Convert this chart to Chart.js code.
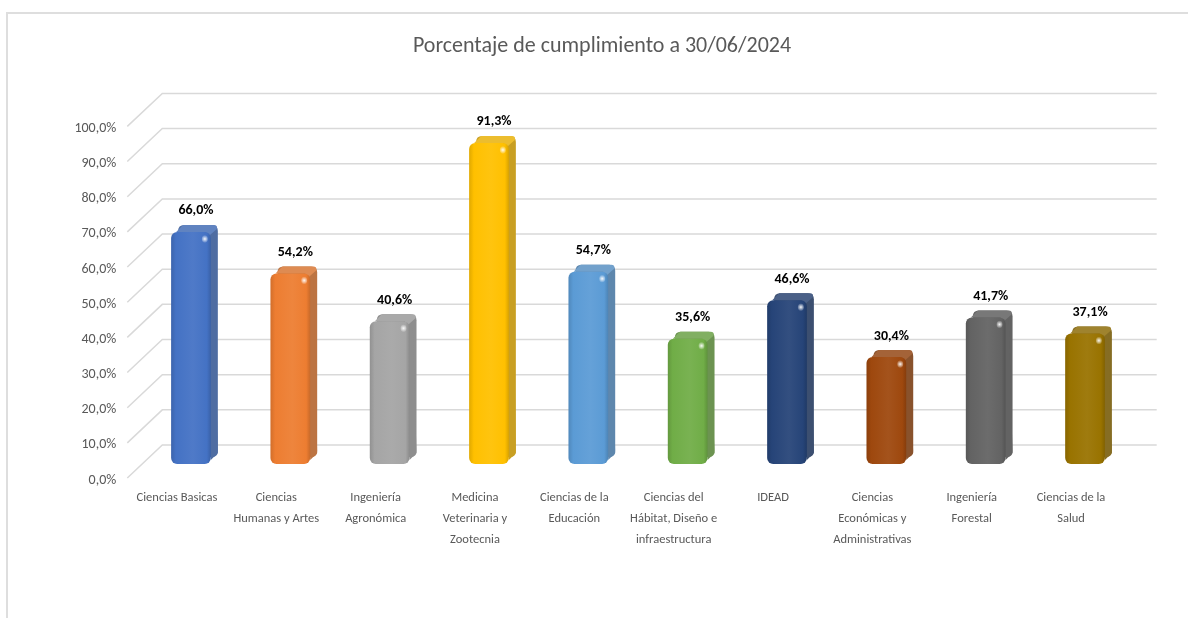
<!DOCTYPE html>
<html lang="es">
<head>
    <meta charset="UTF-8">
    <title>Porcentaje de cumplimiento</title>
    <script src="https://cdn.jsdelivr.net/npm/chart.js"></script>
    <style>
        body { margin: 0; background: #ffffff; }
        #contenedor { position: relative; width: 1188px; height: 618px; overflow: hidden; }
        #marco {
            position: absolute; left: 6px; top: 12px; width: 1300px; height: 700px;
            border-top: 2px solid #dedede; border-left: 2px solid #dedede;
        }
        canvas { position: absolute; left: 0; top: 0; }
    </style>
</head>
<body>
    <div id="contenedor">
        <div id="marco"></div>
        <canvas id="grafico" width="1188" height="618"></canvas>
    </div>
    <script>
        // Datos del gráfico
        const categorias = [
            ['Ciencias Basicas'],
            ['Ciencias', 'Humanas y Artes'],
            ['Ingeniería', 'Agronómica'],
            ['Medicina', 'Veterinaria y', 'Zootecnia'],
            ['Ciencias de la', 'Educación'],
            ['Ciencias del', 'Hábitat, Diseño e', 'infraestructura'],
            ['IDEAD'],
            ['Ciencias', 'Económicas y', 'Administrativas'],
            ['Ingeniería', 'Forestal'],
            ['Ciencias de la', 'Salud']
        ];
        const porcentajes = [66.0, 54.2, 40.6, 91.3, 54.7, 35.6, 46.6, 30.4, 41.7, 37.1];
        const colores = ['#4472C4', '#ED7D31', '#A5A5A5', '#FFC000', '#5B9BD5',
                         '#70AD47', '#264478', '#9E480E', '#636363', '#997300'];
        const ticksY = [0, 10, 20, 30, 40, 50, 60, 70, 80, 90, 100];

        const fuente = 'Carlito, Calibri, Lato, sans-serif';
        Chart.defaults.font.family = fuente;

        const formato = v => v.toFixed(1).replace('.', ',') + '%';

        // mezcla dos colores hex, devuelve hex
        function mezcla(c1, c2, t) {
            const a = parseInt(c1.slice(1), 16), b = parseInt(c2.slice(1), 16);
            const r = Math.round(((a >> 16) & 255) * (1 - t) + ((b >> 16) & 255) * t);
            const g = Math.round(((a >> 8) & 255) * (1 - t) + ((b >> 8) & 255) * t);
            const bl = Math.round((a & 255) * (1 - t) + (b & 255) * t);
            return '#' + ((1 << 24) + (r << 16) + (g << 8) + bl).toString(16).slice(1);
        }

        function rectRedondo(ctx, x, y, w, h, r) {
            ctx.beginPath();
            ctx.moveTo(x + r, y);
            ctx.lineTo(x + w - r, y);
            ctx.quadraticCurveTo(x + w, y, x + w, y + r);
            ctx.lineTo(x + w, y + h - r);
            ctx.quadraticCurveTo(x + w, y + h, x + w - r, y + h);
            ctx.lineTo(x + r, y + h);
            ctx.quadraticCurveTo(x, y + h, x, y + h - r);
            ctx.lineTo(x, y + r);
            ctx.quadraticCurveTo(x, y, x + r, y);
            ctx.closePath();
        }

        const prof = 7; // profundidad del efecto 3D

        const barras3D = {
            id: 'barras3D',
            beforeDatasetsDraw(chart) {
                const ctx = chart.ctx;
                const area = chart.chartArea;
                const y = chart.scales.y;

                // pared de fondo con líneas de cuadrícula
                ctx.save();
                ctx.strokeStyle = '#d9d9d9';
                ctx.lineWidth = 1.5;
                ticksY.forEach(v => {
                    const py = y.getPixelForValue(v);
                    ctx.beginPath();
                    ctx.moveTo(area.left - 14, py + 14);
                    ctx.lineTo(area.left + 21, py - 19);
                    ctx.lineTo(area.right + 22, py - 19);
                    ctx.stroke();
                });

                // caras laterales y superiores
                const meta = chart.getDatasetMeta(0);
                meta.data.forEach((bar, i) => {
                    const c = colores[i];
                    const w = bar.width;
                    const l = bar.x - w / 2, r = bar.x + w / 2, t = bar.y, b = bar.base;
                    ctx.fillStyle = mezcla(mezcla(c, '#808080', 0.3), '#000000', 0.08);
                    rectRedondo(ctx, l + prof, t - prof, w, b - t, 6);
                    ctx.fill();
                    ctx.beginPath();
                    ctx.moveTo(r - 4, t + 4);
                    ctx.lineTo(r - 4 + prof, t + 4 - prof);
                    ctx.lineTo(r + prof, b - prof - 4);
                    ctx.lineTo(r, b - 4);
                    ctx.closePath();
                    ctx.fill();
                    ctx.fillStyle = mezcla(mezcla(c, '#ffffff', 0.12), '#808080', 0.15);
                    ctx.beginPath();
                    ctx.moveTo(l + 5, t);
                    ctx.lineTo(l + 5 + prof, t - prof);
                    ctx.lineTo(r - 4 + prof, t - prof);
                    ctx.quadraticCurveTo(r + prof, t - prof, r + prof - 1, t - prof + 4);
                    ctx.lineTo(r - 2, t + 4);
                    ctx.lineTo(r - 5, t);
                    ctx.closePath();
                    ctx.fill();

                    // degradado de la cara frontal
                    const grad = ctx.createLinearGradient(l, 0, r, 0);
                    grad.addColorStop(0, mezcla(c, '#000000', 0.12));
                    grad.addColorStop(0.12, c);
                    grad.addColorStop(0.55, mezcla(c, '#ffffff', 0.06));
                    grad.addColorStop(0.9, c);
                    grad.addColorStop(1, mezcla(c, '#000000', 0.15));
                    bar.options.backgroundColor = grad;
                });
                ctx.restore();
            },
            afterDatasetsDraw(chart) {
                const ctx = chart.ctx;
                const meta = chart.getDatasetMeta(0);
                ctx.save();
                meta.data.forEach((bar, i) => {
                    const r = bar.x + bar.width / 2;
                    // brillo
                    const hx = r - 6, hy = bar.y + 7;
                    const rg = ctx.createRadialGradient(hx, hy, 0, hx, hy, 4);
                    rg.addColorStop(0, 'rgba(255,255,255,0.95)');
                    rg.addColorStop(1, 'rgba(255,255,255,0)');
                    ctx.fillStyle = rg;
                    ctx.beginPath();
                    ctx.ellipse(hx, hy, 3, 4, 0, 0, Math.PI * 2);
                    ctx.fill();

                    // etiqueta de valor
                    ctx.fillStyle = '#000000';
                    ctx.font = 'bold 14px ' + fuente;
                    ctx.textAlign = 'center';
                    ctx.textBaseline = 'middle';
                    ctx.fillText(formato(porcentajes[i]), bar.x + 5, bar.y - 21);
                });
                ctx.restore();
            }
        };

        const config = {
            type: 'bar',
            data: {
                labels: categorias,
                datasets: [{
                    data: porcentajes,
                    backgroundColor: colores,
                    borderRadius: 6,
                    borderSkipped: false,
                    barPercentage: 0.4,
                    categoryPercentage: 1
                }]
            },
            options: {
                responsive: false,
                animation: false,
                layout: { padding: { left: 69.3, right: 53.3, top: 0, bottom: 0 } },
                scales: {
                    x: {
                        grid: { display: false },
                        border: { display: false },
                        ticks: {
                            color: '#595959',
                            font: { size: 12.5, lineHeight: 1.68 },
                            maxRotation: 0,
                            autoSkip: false,
                            labelOffset: -14,
                            padding: 15
                        },
                        afterFit: s => { s.height = 154; }
                    },
                    y: {
                        min: 0,
                        max: 100,
                        grid: { display: false },
                        border: { display: false },
                        afterBuildTicks: s => { s.ticks = ticksY.map(v => ({ value: v })); },
                        ticks: {
                            color: '#595959',
                            font: { size: 14 },
                            padding: 17,
                            labelOffset: 16,
                            callback: v => formato(v)
                        },
                        afterFit: s => { s.width = 72; }
                    }
                },
                plugins: {
                    legend: { display: false },
                    tooltip: { enabled: false },
                    title: {
                        display: true,
                        text: 'Porcentaje de cumplimiento a 30/06/2024',
                        color: '#595959',
                        font: { size: 22, weight: 'normal', lineHeight: 1.2 },
                        padding: { top: 33, bottom: 53 }
                    }
                }
            },
            plugins: [barras3D]
        };

        new Chart(document.getElementById('grafico'), config);
    </script>
</body>
</html>
